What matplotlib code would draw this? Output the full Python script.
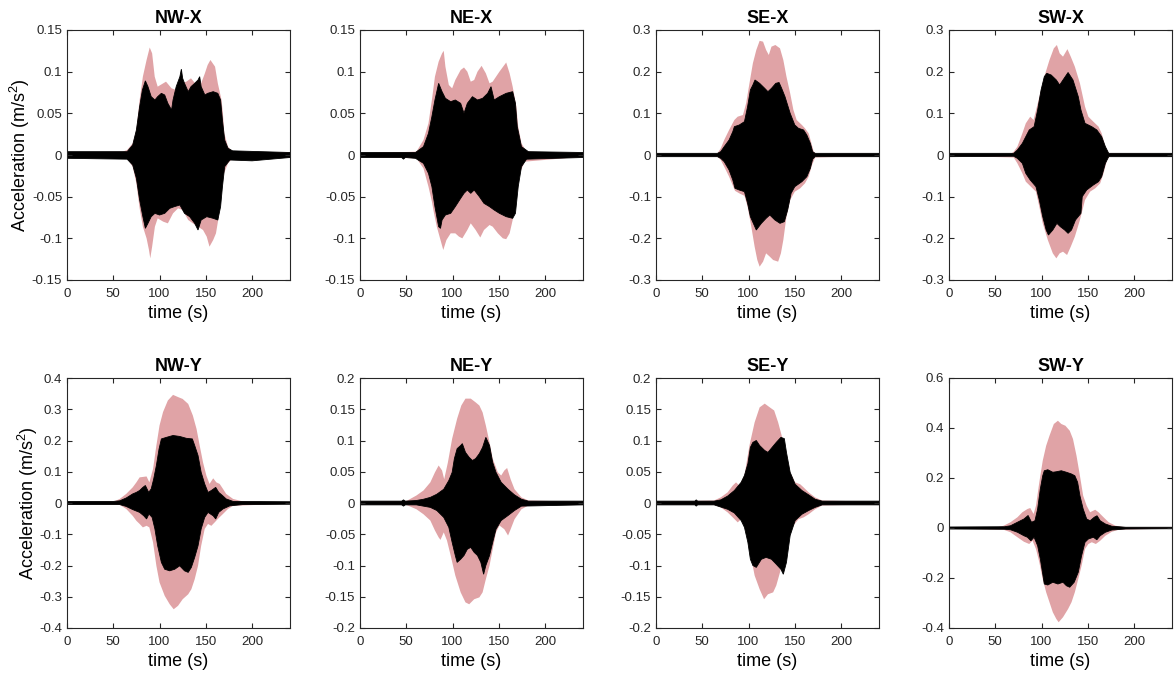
import numpy as np
import matplotlib
matplotlib.use("Agg")
import matplotlib.pyplot as plt
from matplotlib.ticker import FuncFormatter

plt.rcParams['font.family'] = ['Liberation Sans', 'DejaVu Sans']
plt.rcParams['mathtext.fontset'] = 'custom'
plt.rcParams['mathtext.rm'] = 'Liberation Sans'
plt.rcParams['mathtext.it'] = 'Liberation Sans:italic'
plt.rcParams['mathtext.bf'] = 'Liberation Sans:bold'
plt.rcParams['axes.unicode_minus'] = False

PINK = '#e0a3a6'
T_END = 241

# envelopes as (time s, acceleration m/s^2) pairs: pink = reference record, black = measured
nwx_pink_hi = [(0, 0.003), (60, 0.004), (65, 0.006), (71, 0.014), (75, 0.03), (78.5, 0.066), (82, 0.094),
               (86, 0.114), (89.4, 0.129), (92, 0.122), (94.8, 0.094), (98, 0.082), (104, 0.086), (107, 0.088),
               (113, 0.08), (118, 0.078), (124, 0.086), (129, 0.088), (134, 0.092), (140, 0.084), (145, 0.086),
               (149, 0.098), (152, 0.108), (155, 0.114), (160, 0.106), (163, 0.086), (167, 0.066), (168.5, 0.05),
               (170, 0.026), (174, 0.01), (179, 0.004), (241, 0.003)]
nwx_pink_lo = [(0, -0.003), (65, -0.004), (71, -0.014), (75, -0.034), (78.5, -0.064), (82, -0.086), (86, -0.1),
               (88.6, -0.114), (90, -0.124), (92, -0.11), (95, -0.086), (98, -0.076), (104, -0.08), (109, -0.082),
               (114.6, -0.07), (120, -0.064), (125, -0.066), (131, -0.078), (136, -0.082), (141.6, -0.086),
               (147, -0.09), (151, -0.098), (154, -0.11), (158, -0.102), (161, -0.094), (164, -0.074),
               (167, -0.046), (169, -0.024), (174, -0.01), (179, -0.004), (241, -0.003)]
nwx_black_hi = [(0, 0.004), (65, 0.004), (71, 0.012), (75, 0.03), (78.5, 0.058),
                (81.5, 0.078), (84.7, 0.089), (87.5, 0.082), (91, 0.07), (95, 0.066), (98, 0.07), (102, 0.074),
                (105.6, 0.072), (109, 0.062), (113, 0.054), (114.6, 0.066), (118, 0.082), (122, 0.094),
                (123.6, 0.103), (125, 0.092), (127, 0.086), (131, 0.076), (134, 0.082), (138, 0.086),
                (141.6, 0.09), (143.4, 0.094), (145, 0.082), (149, 0.072), (152, 0.074), (158, 0.076),
                (163, 0.074), (166, 0.066), (168, 0.042), (170.4, 0.018), (174, 0.008), (179, 0.005),
                (241, 0.003)]
nwx_black_lo = [(0, -0.004), (65, -0.005), (71, -0.012), (75, -0.028), (78.5, -0.054), (82, -0.074),
                (84.7, -0.088), (87.5, -0.082), (91, -0.074), (95, -0.07), (100, -0.072), (105.6, -0.07),
                (111, -0.064), (116, -0.062), (122, -0.06), (127, -0.07), (132.6, -0.074), (138, -0.082),
                (141.6, -0.09), (145, -0.078), (151, -0.074), (158, -0.076), (163, -0.078), (166, -0.062),
                (168, -0.038), (170.4, -0.014), (176, -0.006), (200, -0.007), (241, -0.003)]

nex_pink_hi = [(0, 0.002), (61, 0.004), (68.6, 0.018), (74, 0.038), (77.7, 0.066), (81, 0.094), (85, 0.112),
               (88.7, 0.122), (90.5, 0.125), (92.3, 0.106), (96, 0.084), (99.6, 0.08), (103, 0.09),
               (108.8, 0.102), (112.4, 0.105), (116, 0.1), (119.7, 0.088), (123.4, 0.09), (127, 0.1),
               (131.4, 0.107), (136, 0.098), (140, 0.086), (143.4, 0.088), (150.7, 0.1), (158, 0.111),
               (161.7, 0.098), (165, 0.082), (169, 0.058), (171, 0.034), (174.5, 0.014), (180, 0.004),
               (241, 0.002)]
nex_pink_lo = [(0, -0.002), (61, -0.004), (68.6, -0.016), (74, -0.038), (77.7, -0.056), (80, -0.07),
               (83, -0.086), (87, -0.102), (90, -0.114), (93.4, -0.102), (98, -0.094), (103, -0.094),
               (107, -0.098), (110.6, -0.1), (116, -0.09), (119.7, -0.082), (125, -0.09), (130, -0.099),
               (134, -0.09), (140, -0.084), (143.4, -0.086), (149, -0.094), (154.4, -0.1), (158, -0.101),
               (161.7, -0.094), (165, -0.078), (169, -0.05), (172.6, -0.022), (178, -0.008), (241, -0.002)]
nex_black_hi = [(0, 0.003), (60, 0.003), (68.6, 0.01), (74, 0.026), (77.7, 0.046), (81, 0.066), (85, 0.086),
                (88.7, 0.076), (92.3, 0.068), (98, 0.064), (103, 0.066), (108.8, 0.062), (112.4, 0.05),
                (116, 0.062), (121.5, 0.07), (127, 0.066), (132.5, 0.068), (138, 0.074), (141.6, 0.082),
                (145, 0.066), (150.7, 0.07), (158, 0.074), (165, 0.076), (168, 0.062), (170, 0.034),
                (174.5, 0.01), (182, 0.004), (241, 0.003)]
nex_black_lo = [(0, -0.003), (45, -0.003), (47, -0.005), (49, -0.003), (60, -0.004), (68.6, -0.01),
                (74, -0.022), (77.7, -0.038), (81, -0.062), (85, -0.086), (87, -0.088), (88.7, -0.078),
                (92.3, -0.072), (98, -0.07), (103, -0.062), (108.8, -0.052), (112.4, -0.046), (116, -0.042),
                (119.7, -0.046), (123.4, -0.042), (129, -0.05), (134, -0.058), (140, -0.062), (145, -0.066),
                (150.7, -0.07), (158, -0.074), (165, -0.076), (168, -0.07), (171, -0.038), (174.5, -0.014),
                (180, -0.005), (241, -0.003)]

sex_pink_hi = [(0, 0.002), (65, 0.002), (66.4, 0.004), (70, 0.016), (73.7, 0.036), (79, 0.06), (84.7, 0.084),
               (88.3, 0.092), (94, 0.096), (97.4, 0.124), (101, 0.172), (104.7, 0.22), (108.4, 0.252),
               (112, 0.274), (115.7, 0.272), (119, 0.252), (121.9, 0.24), (124.8, 0.26), (129, 0.264),
               (134, 0.256), (137.6, 0.228), (141, 0.188), (145, 0.148), (148.5, 0.108), (152, 0.084),
               (157.7, 0.072), (161, 0.064), (165, 0.052), (168, 0.028), (170.4, 0.008), (174, 0.002),
               (241, 0.002)]
sex_pink_lo = [(0, -0.002), (66.4, -0.004), (70, -0.012), (73.7, -0.028), (79, -0.052), (85.4, -0.086),
               (90, -0.092), (95.6, -0.098), (99, -0.124), (103, -0.172), (106.6, -0.22), (109.5, -0.252),
               (112, -0.268), (115.7, -0.256), (119, -0.236), (123, -0.244), (126.6, -0.252), (132, -0.256),
               (135, -0.236), (137.6, -0.204), (141, -0.148), (145, -0.108), (150, -0.088), (155.8, -0.08),
               (161, -0.068), (165, -0.052), (168.6, -0.024), (172, -0.006), (241, -0.002)]
sex_black_hi = [(0, 0.004), (66.4, 0.004), (70, 0.008), (73.7, 0.02), (79, 0.036), (83, 0.056), (84.7, 0.068),
                (90, 0.072), (95.6, 0.08), (99, 0.116), (102, 0.156), (104.7, 0.168), (107, 0.18), (112, 0.172),
                (117.5, 0.16), (121, 0.152), (124.8, 0.16), (129.5, 0.172), (133, 0.174), (135.8, 0.16),
                (139.4, 0.14), (145, 0.1), (150, 0.072), (154, 0.064), (159.5, 0.06), (163, 0.048),
                (166.8, 0.028), (169.3, 0.008), (172, 0.004), (241, 0.004)]
sex_black_lo = [(0, -0.004), (66.4, -0.004), (70, -0.008), (73.7, -0.016), (79, -0.036), (83, -0.06),
                (85.4, -0.08), (90, -0.084), (95.6, -0.088), (99, -0.116), (102, -0.148), (106, -0.168),
                (108.4, -0.18), (113.9, -0.164), (119, -0.152), (123, -0.144), (128.5, -0.156), (134, -0.164),
                (138.7, -0.16), (142.3, -0.132), (146, -0.092), (150, -0.076), (157.7, -0.064), (163, -0.052),
                (166.8, -0.032), (169.3, -0.01), (172, -0.004), (241, -0.004)]

swx_pink_hi = [(0, 0.002), (66.5, 0.002), (70, 0.008), (73.9, 0.02), (79.3, 0.052), (83, 0.076), (87.8, 0.092),
               (91.4, 0.084), (95, 0.116), (98.7, 0.148), (103, 0.188), (108.6, 0.228), (113.3, 0.256),
               (116.6, 0.264), (119.6, 0.244), (123.2, 0.236), (128, 0.254), (131.6, 0.236), (136, 0.212),
               (141.5, 0.172), (147, 0.116), (150.6, 0.092), (156, 0.08), (161.6, 0.068), (165, 0.052),
               (169, 0.02), (172.6, 0.004), (241, 0.002)]
swx_pink_lo = [(0, -0.002), (70, -0.006), (73.9, -0.02), (79.3, -0.044), (83, -0.064), (88.5, -0.076),
               (94, -0.088), (97.6, -0.124), (101.3, -0.164), (106.8, -0.204), (112.2, -0.236), (116, -0.248),
               (119.6, -0.236), (123.2, -0.232), (127.6, -0.24), (131.6, -0.22), (136, -0.196), (141.5, -0.156),
               (147, -0.108), (152.5, -0.088), (158, -0.08), (163.4, -0.068), (167, -0.044), (170.8, -0.012),
               (174, -0.002), (241, -0.002)]
swx_black_hi = [(0, 0.004), (70, 0.004), (73.9, 0.012), (79.3, 0.028), (83, 0.044), (86.7, 0.06), (92, 0.068),
                (95.8, 0.108), (99.5, 0.156), (103, 0.188), (105.7, 0.196), (110.4, 0.192), (116, 0.18),
                (119.6, 0.168), (123.2, 0.18), (128.7, 0.198), (134, 0.18), (139.7, 0.14), (142.6, 0.108),
                (147, 0.076), (154.3, 0.068), (159.8, 0.06), (165, 0.044), (169, 0.02), (172.6, 0.004),
                (241, 0.004)]
swx_black_lo = [(0, -0.004), (70, -0.003), (73.9, -0.008), (79.3, -0.02), (83, -0.044), (87.8, -0.06),
                (94, -0.076), (97.6, -0.108), (101.3, -0.148), (105, -0.18), (107.5, -0.192), (112.2, -0.18),
                (116.6, -0.164), (120.3, -0.172), (125, -0.18), (128.7, -0.188), (132.4, -0.18),
                (136.7, -0.156), (142.6, -0.14), (144, -0.1), (148.8, -0.084), (156, -0.072), (161.6, -0.064),
                (165, -0.052), (169, -0.02), (172.6, -0.004), (241, -0.004)]

nwy_pink_hi = [(0, 0.003), (50, 0.004), (57, 0.013), (64, 0.029), (71, 0.05), (75, 0.066), (78.5, 0.082),
               (86, 0.085), (89, 0.066), (93, 0.109), (96.6, 0.184), (100, 0.248), (103.8, 0.291), (109, 0.328),
               (114.6, 0.346), (120, 0.339), (125, 0.333), (131, 0.317), (136, 0.28), (140, 0.237),
               (143.4, 0.184), (147, 0.13), (150.6, 0.088), (154, 0.061), (158, 0.079), (161.4, 0.066),
               (165, 0.061), (168.6, 0.045), (172, 0.029), (179.5, 0.013), (190, 0.005), (201, 0.002),
               (241, 0.002)]
nwy_pink_lo = [(0, -0.003), (50, -0.004), (57, -0.006), (64, -0.019), (71, -0.041), (75, -0.057),
               (78.5, -0.067), (82, -0.078), (86, -0.073), (89, -0.078), (93, -0.126), (96.6, -0.201),
               (100, -0.254), (105.6, -0.297), (111, -0.324), (115.3, -0.34), (120, -0.329), (125, -0.308),
               (131, -0.292), (134.4, -0.276), (138, -0.244), (141.6, -0.201), (145, -0.137), (148.8, -0.083),
               (152.4, -0.067), (156, -0.073), (159.6, -0.062), (163, -0.051), (168.6, -0.035), (174, -0.019),
               (179.5, -0.009), (241, -0.002)]
nwy_black_hi = [(0, 0.005), (50, 0.005), (57, 0.007), (64, 0.016), (71, 0.029), (75, 0.034), (78.5, 0.04),
                (82, 0.05), (84.7, 0.056), (88.3, 0.034), (91, 0.045), (93.7, 0.077), (96.6, 0.12),
                (99.5, 0.173), (102, 0.205), (107.4, 0.21), (114.6, 0.216), (121.8, 0.213), (129, 0.207),
                (135.5, 0.205), (138, 0.184), (141.6, 0.152), (145, 0.098), (148.8, 0.061), (152.4, 0.034),
                (156, 0.04), (160.7, 0.05), (164, 0.034), (168, 0.024), (172, 0.013), (179.5, 0.005),
                (241, 0.004)]
nwy_black_lo = [(0, -0.005), (57, -0.005), (64, -0.011), (71, -0.021), (78.5, -0.03), (83, -0.041),
                (86, -0.051), (88.6, -0.035), (92, -0.046), (95, -0.083), (98, -0.137), (102, -0.19),
                (105.6, -0.212), (111, -0.217), (116.4, -0.212), (121.8, -0.201), (127, -0.217), (131, -0.222),
                (134.4, -0.206), (138, -0.174), (141.6, -0.137), (145, -0.083), (148.8, -0.046), (152.4, -0.03),
                (158, -0.041), (160.7, -0.051), (164, -0.03), (168.6, -0.019), (176, -0.009), (190, -0.005),
                (241, -0.004)]

ney_pink_hi = [(0, 0.002), (50, 0.003), (61, 0.012), (68.6, 0.02), (76, 0.033), (81, 0.049), (85, 0.06),
               (88.7, 0.052), (91, 0.038), (95, 0.065), (99.6, 0.103), (105, 0.135), (109.5, 0.156),
               (114, 0.167), (119.7, 0.167), (125, 0.161), (129, 0.156), (132.5, 0.145), (136, 0.124),
               (140, 0.097), (143.4, 0.071), (149, 0.049), (152.6, 0.044), (156, 0.052), (159, 0.056),
               (162.8, 0.038), (167, 0.022), (174.5, 0.009), (182, 0.004), (241, 0.002)]
ney_pink_lo = [(0, -0.002), (50, -0.003), (61, -0.01), (68.6, -0.018), (76, -0.028), (81, -0.044),
               (85, -0.055), (87, -0.059), (90.5, -0.047), (94, -0.06), (98, -0.084), (103, -0.116),
               (108.8, -0.143), (114, -0.159), (118, -0.162), (123.4, -0.154), (129, -0.151), (132.5, -0.143),
               (136, -0.122), (140, -0.1), (143.4, -0.074), (147, -0.047), (150.7, -0.036), (156, -0.042),
               (160, -0.052), (162.8, -0.042), (167, -0.026), (174.5, -0.01), (182, -0.004), (241, -0.002)]
ney_black_hi = [(0, 0.003), (45, 0.003), (47, 0.005), (49, 0.003), (61, 0.004), (68.6, 0.006), (76, 0.009),
                (83, 0.014), (90.5, 0.022), (96, 0.036), (99.6, 0.049), (102, 0.071), (105, 0.087),
                (108.8, 0.092), (110.6, 0.095), (114, 0.081), (118, 0.073), (121.5, 0.068), (125, 0.071),
                (129, 0.079), (132.5, 0.089), (136, 0.105), (140, 0.092), (143.4, 0.065), (147, 0.049),
                (152.6, 0.033), (160, 0.022), (167, 0.013), (174.5, 0.006), (182, 0.003), (241, 0.003)]
ney_black_lo = [(0, -0.003), (45, -0.003), (47, -0.005), (49, -0.003), (61, -0.003), (76, -0.007),
                (83, -0.012), (90.5, -0.023), (96, -0.039), (99.6, -0.063), (103, -0.084), (105, -0.095),
                (108.8, -0.09), (112.4, -0.084), (116, -0.074), (119.7, -0.071), (123.4, -0.079), (127, -0.084),
                (130.6, -0.095), (133.6, -0.114), (136, -0.1), (140, -0.084), (143.4, -0.063), (147, -0.042),
                (152.6, -0.028), (160, -0.02), (167, -0.012), (174.5, -0.005), (241, -0.003)]

sey_pink_hi = [(0, 0.002), (62.8, 0.004), (70, 0.009), (77.4, 0.017), (83, 0.028), (86.5, 0.033), (90, 0.028),
               (95.6, 0.044), (101, 0.092), (106.6, 0.129), (112, 0.153), (117.5, 0.159), (123, 0.153),
               (127.7, 0.148), (132, 0.129), (135.8, 0.108), (139.4, 0.087), (145, 0.049), (150.4, 0.033),
               (155.8, 0.03), (159.5, 0.025), (165, 0.017), (172, 0.009), (179.6, 0.004), (241, 0.002)]
sey_pink_lo = [(0, -0.002), (62.8, -0.003), (70, -0.007), (77.4, -0.015), (83, -0.023), (88.3, -0.031),
               (92, -0.026), (97.4, -0.042), (101, -0.074), (106.6, -0.116), (112, -0.138), (116.8, -0.154),
               (121, -0.146), (126.6, -0.143), (130, -0.132), (134, -0.111), (137.6, -0.084), (143, -0.058),
               (148.5, -0.036), (154, -0.026), (159.5, -0.023), (165, -0.018), (172, -0.01), (179.6, -0.004),
               (241, -0.002)]
sey_black_hi = [(0, 0.003), (42, 0.003), (43.5, 0.005), (45, 0.003), (62.8, 0.003), (70, 0.005), (77.4, 0.011),
                (84.7, 0.02), (92, 0.033), (95.6, 0.044), (99.3, 0.063), (102, 0.089), (104.7, 0.097),
                (108.4, 0.1), (112, 0.092), (117.5, 0.084), (121, 0.081), (125.5, 0.089), (130, 0.097),
                (135, 0.105), (138.7, 0.103), (141, 0.081), (145, 0.049), (150.4, 0.03), (157.7, 0.02),
                (165, 0.013), (172, 0.006), (179.6, 0.003), (241, 0.003)]
sey_black_lo = [(0, -0.003), (42, -0.003), (43.5, -0.005), (45, -0.003), (62.8, -0.003), (77.4, -0.01),
                (84.7, -0.016), (92, -0.028), (95.6, -0.039), (99.3, -0.063), (102, -0.09), (104.7, -0.1),
                (108.4, -0.103), (113.9, -0.09), (119, -0.087), (124.8, -0.09), (130, -0.098), (135, -0.106),
                (137.6, -0.114), (141, -0.095), (145, -0.052), (150.4, -0.028), (157.7, -0.018), (165, -0.012),
                (172, -0.007), (179.6, -0.003), (241, -0.003)]

swy_pink_hi = [(0, 0.002), (52, 0.003), (59, 0.009), (66.5, 0.023), (74, 0.043), (79.3, 0.063), (84.8, 0.076),
               (87.8, 0.08), (91.4, 0.056), (94, 0.089), (97.6, 0.183), (101.3, 0.269), (105, 0.329),
               (108.6, 0.369), (113.3, 0.416), (117.7, 0.429), (121.4, 0.416), (125.8, 0.409), (130.5, 0.389),
               (134, 0.356), (137.8, 0.289), (141.5, 0.209), (145, 0.129), (148.8, 0.089), (152.5, 0.063),
               (158, 0.073), (161.6, 0.063), (167, 0.043), (172.6, 0.023), (180, 0.009), (191, 0.003),
               (241, 0.002)]
swy_pink_lo = [(0, -0.002), (59, -0.007), (66.5, -0.017), (74, -0.037), (81, -0.055), (86.7, -0.064),
               (90.3, -0.051), (94, -0.084), (97.6, -0.137), (101.3, -0.204), (105, -0.257), (108.6, -0.297),
               (112.2, -0.337), (116, -0.364), (118.5, -0.377), (123.2, -0.357), (128.7, -0.324),
               (132.4, -0.297), (136, -0.257), (139.7, -0.204), (143.3, -0.151), (147, -0.084), (150.6, -0.064),
               (154.3, -0.057), (158.7, -0.064), (163.4, -0.051), (169, -0.031), (176, -0.015), (183.5, -0.007),
               (241, -0.002)]
swy_black_hi = [(0, 0.004), (60, 0.005), (66.5, 0.009), (74, 0.023), (81, 0.036), (85.5, 0.05), (89.2, 0.023),
                (92.9, 0.029), (95.8, 0.076), (98.7, 0.156), (101.3, 0.209), (103, 0.229), (106.8, 0.233),
                (112.2, 0.223), (116, 0.225), (121.4, 0.229), (126.9, 0.223), (132.4, 0.216), (136, 0.209),
                (139, 0.183), (141.5, 0.129), (145, 0.076), (148.8, 0.036), (152.5, 0.029), (157, 0.043),
                (160, 0.049), (163.4, 0.029), (169, 0.016), (176, 0.007), (191, 0.003), (241, 0.003)]
swy_black_lo = [(0, -0.004), (60, -0.005), (66.5, -0.007), (74, -0.017), (81, -0.031), (84.8, -0.037),
                (88.5, -0.051), (92, -0.037), (95.8, -0.071), (98.7, -0.124), (101.3, -0.184), (103, -0.224),
                (106.8, -0.228), (112.2, -0.217), (117.7, -0.224), (123.2, -0.217), (126.9, -0.231),
                (130.5, -0.237), (135.3, -0.217), (139.7, -0.177), (143.3, -0.111), (147, -0.057),
                (150.6, -0.044), (156, -0.037), (159.8, -0.047), (163.4, -0.031), (169, -0.017), (176, -0.008),
                (191, -0.004), (241, -0.003)]

titles = ['NW-X', 'NE-X', 'SE-X', 'SW-X', 'NW-Y', 'NE-Y', 'SE-Y', 'SW-Y']
ylims = [(-0.15, 0.15), (-0.15, 0.15), (-0.3, 0.3), (-0.3, 0.3),
         (-0.4, 0.4), (-0.2, 0.2), (-0.2, 0.2), (-0.4, 0.6)]
ysteps = [0.05, 0.05, 0.1, 0.1, 0.1, 0.05, 0.05, 0.2]
xticks = [0, 50, 100, 150, 200]

envelopes = [
    (nwx_pink_hi, nwx_pink_lo, nwx_black_hi, nwx_black_lo),
    (nex_pink_hi, nex_pink_lo, nex_black_hi, nex_black_lo),
    (sex_pink_hi, sex_pink_lo, sex_black_hi, sex_black_lo),
    (swx_pink_hi, swx_pink_lo, swx_black_hi, swx_black_lo),
    (nwy_pink_hi, nwy_pink_lo, nwy_black_hi, nwy_black_lo),
    (ney_pink_hi, ney_pink_lo, ney_black_hi, ney_black_lo),
    (sey_pink_hi, sey_pink_lo, sey_black_hi, sey_black_lo),
    (swy_pink_hi, swy_pink_lo, swy_black_hi, swy_black_lo),
]


def band(ax, hi, lo, **kw):
    hi = np.array(hi)
    lo = np.array(lo)[::-1]
    x = np.r_[hi[:, 0], lo[:, 0]]
    y = np.r_[hi[:, 1], lo[:, 1]]
    ax.fill(x, y, **kw)


def fmt(v, pos):
    v = round(v, 6) + 0.0
    return f'{v:g}'


W, H = 1174, 677
fig = plt.figure(figsize=(W / 100, H / 100), dpi=100)

col_left = [67, 360, 656, 949]
row_top = [30, 378]
ax_w, ax_h = 223, 250

for i, (title, env) in enumerate(zip(titles, envelopes)):
    r, c = divmod(i, 4)
    rect = [col_left[c] / W, 1 - (row_top[r] + ax_h) / H, ax_w / W, ax_h / H]
    ax = fig.add_axes(rect)
    p_hi, p_lo, b_hi, b_lo = env
    band(ax, p_hi, p_lo, facecolor=PINK, edgecolor='none', lw=0)
    band(ax, b_hi, b_lo, facecolor='black', edgecolor='black', lw=0.6)

    lo, hi = ylims[i]
    ax.set_xlim(0, T_END)
    ax.set_ylim(lo, hi)
    ax.set_xticks(xticks)
    ax.set_yticks(np.arange(lo, hi + ysteps[i] / 2, ysteps[i]))
    ax.yaxis.set_major_formatter(FuncFormatter(fmt))
    ax.tick_params(direction='in', top=True, right=True, length=3.5, width=0.8,
                   labelsize=9.5, colors='#262626')
    ax.tick_params(axis='x', pad=5.5)
    ax.tick_params(axis='y', pad=3.5)
    for s in ax.spines.values():
        s.set_linewidth(0.8)
        s.set_color('#262626')

    ax.set_title(title, fontsize=13, fontweight='bold', pad=5)
    ax.set_xlabel('time (s)', fontsize=13, labelpad=4)
    if c == 0:
        ax.set_ylabel('Acceleration (m/s$^2$)', fontsize=13, labelpad=-0.5)

fig.savefig('out.png', dpi=100)
